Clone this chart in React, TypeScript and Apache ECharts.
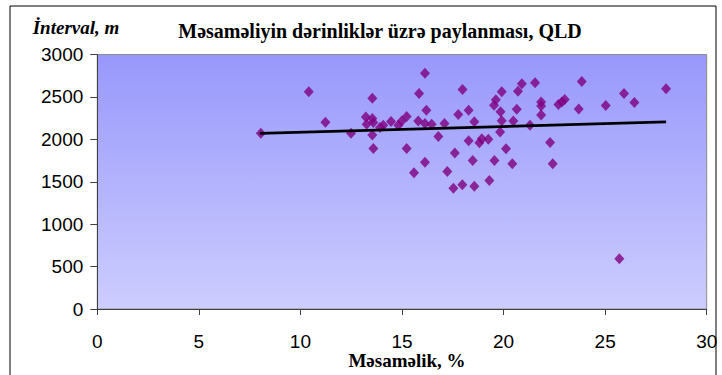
import React, { useEffect, useRef } from "react";
import * as echarts from "echarts";

// Porosity (%) values of the measured points
const porosity: number[] = [
  8.05, 10.41, 11.23, 12.49, 13.54, 13.22, 13.54, 13.26, 13.59, 13.54,
  13.59, 13.92, 14.08, 14.46, 14.82, 14.99, 15.23, 15.23, 15.59, 15.84,
  15.8, 16.13, 16.2, 16.13, 16.13, 16.46, 16.79, 17.09, 17.23, 17.53,
  17.6, 17.77, 17.98, 17.97, 18.28, 18.28, 18.48, 18.56, 18.56, 18.81,
  18.93, 19.25, 19.3, 19.53, 19.62, 19.55, 19.85, 19.91, 19.91, 19.83,
  20.12, 20.43, 20.48, 20.65, 20.71, 20.9, 21.3, 21.55, 21.85, 21.85,
  21.85, 22.29, 22.42, 22.7, 22.87, 23.01, 23.7, 23.85, 25.03, 25.7,
  25.93, 26.44, 28.0,
];

// Interval depth (m) of the measured points
const depth: number[] = [
  2071, 2560, 2201, 2071, 2485, 2264, 2245, 2178, 2198, 2051,
  1893, 2139, 2166, 2209, 2166, 2217, 2269, 1893, 1606, 2541,
  2217, 2778, 2343, 2186, 1731, 2178, 2032, 2186, 1621, 1424,
  1840, 2292, 2586, 1464, 2343, 1982, 1751, 2207, 1447, 1959,
  2008, 2000, 1515, 2402, 2467, 1751, 2325, 2560, 2219, 2086,
  1890, 1712, 2217, 2355, 2568, 2654, 2166, 2666, 2441, 2394,
  2288, 1964, 1712, 2411, 2441, 2470, 2359, 2683, 2399, 592,
  2541, 2434, 2595,
];

// Trend line end points
const trendX: number[] = [8, 28];
const trendY: number[] = [2070, 2205];

const titleText = "Məsaməliyin dərinliklər üzrə paylanması, QLD";
const yAxisTitle = "İnterval, m";
const xAxisTitle = "Məsaməlik, %";

export default function App() {
  const ref = useRef<HTMLDivElement>(null);

  useEffect(() => {
    if (!ref.current) return;
    const chart = echarts.init(ref.current, null, { renderer: "svg" });
    const serif = "'Liberation Serif', 'DejaVu Serif', serif";
    const sans = "'Liberation Sans', Arial, sans-serif";
    chart.setOption({
      animation: false,
      backgroundColor: "#ffffff",
      grid: {
        left: 97.3,
        top: 54.5,
        right: 15.3,
        bottom: 66,
        show: true,
        borderColor: "#8c8c8c",
        borderWidth: 1,
        backgroundColor: new echarts.graphic.LinearGradient(0, 0, 0, 1, [
          { offset: 0, color: "#9898fc" },
          { offset: 1, color: "#cdcdff" },
        ]),
      },
      xAxis: {
        type: "value",
        min: 0,
        max: 30,
        interval: 5,
        axisLine: { show: true, onZero: false, lineStyle: { color: "#404040", width: 1 } },
        axisTick: { show: true, inside: false, length: 6, lineStyle: { color: "#404040" } },
        splitLine: { show: false },
        axisLabel: {
          color: "#000",
          fontFamily: sans,
          fontSize: 19,
          lineHeight: 16,
          margin: 24,
          formatter: (v: number) => String(v),
        },
      },
      yAxis: {
        type: "value",
        min: 0,
        max: 3000,
        interval: 500,
        axisLine: { show: true, onZero: false, lineStyle: { color: "#404040", width: 1 } },
        axisTick: { show: true, inside: false, length: 7, lineStyle: { color: "#404040" } },
        splitLine: { show: false },
        axisLabel: {
          color: "#000",
          fontFamily: sans,
          fontSize: 19,
          margin: 14,
          formatter: (v: number) => String(v),
        },
      },
      series: [
        {
          type: "scatter",
          symbol: "diamond",
          symbolSize: [10, 11],
          itemStyle: { color: "#800080" },
          data: porosity.map((p, i) => [p, depth[i]]),
          z: 2,
        },
        {
          type: "line",
          showSymbol: false,
          symbol: "none",
          lineStyle: { color: "#000000", width: 2.8 },
          data: trendX.map((x, i) => [x, trendY[i]]),
          z: 3,
        },
      ],
      graphic: [
        {
          type: "rect",
          shape: { x: 10, y: 6, width: 706, height: 380 },
          style: { fill: "none", stroke: "#000", lineWidth: 1 },
          silent: true,
        },
        {
          type: "text",
          x: 380,
          y: 31,
          style: {
            text: titleText,
            fontFamily: serif,
            fontWeight: "bold",
            fontSize: 20,
            fill: "#000",
            align: "center",
            verticalAlign: "middle",
          },
        },
        {
          type: "text",
          x: 76,
          y: 27,
          style: {
            text: yAxisTitle,
            fontFamily: serif,
            fontWeight: "bold",
            fontStyle: "italic",
            fontSize: 19,
            fill: "#000",
            align: "center",
            verticalAlign: "middle",
          },
        },
        {
          type: "text",
          x: 407,
          y: 360,
          style: {
            text: xAxisTitle,
            fontFamily: serif,
            fontWeight: "bold",
            fontSize: 19,
            lineHeight: 16,
            fill: "#000",
            align: "center",
            verticalAlign: "middle",
          },
        },
      ],
    });
    return () => chart.dispose();
  }, []);

  return (
    <div
      ref={ref}
      style={{ position: "fixed", left: 0, top: 0, width: 722, height: 375 }}
    />
  );
}
